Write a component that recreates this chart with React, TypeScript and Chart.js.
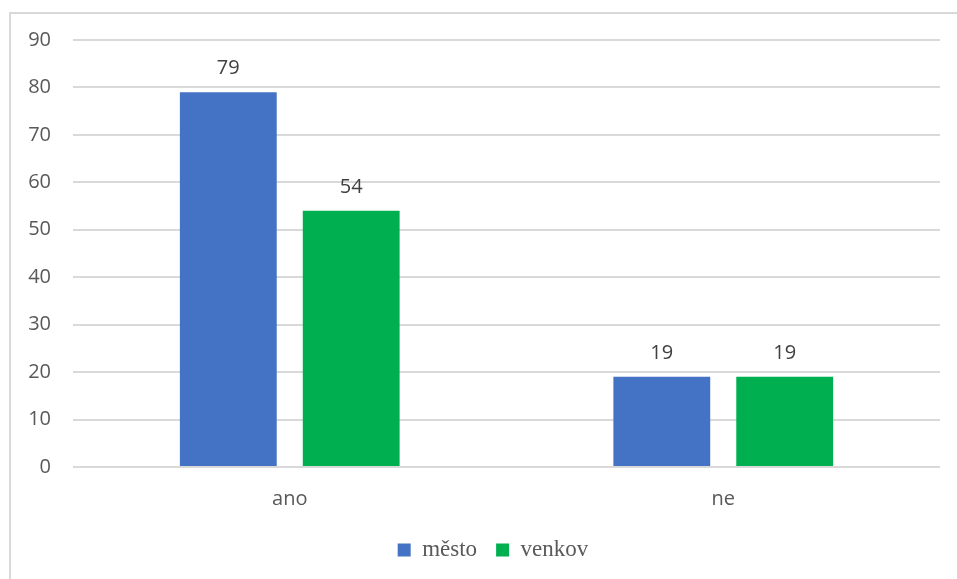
import React, { useEffect, useRef } from "react";
import { Chart, registerables } from "chart.js";

Chart.register(...registerables);

const categories = ["ano", "ne"];
const mestoValues = [79, 19];
const venkovValues = [54, 19];
const seriesNames = ["město", "venkov"];

const valueLabels = {
  id: "valueLabels",
  afterInit(chart: any) {
    const lg = chart.legend;
    if (lg) {
      const orig = lg.fit.bind(lg);
      lg.fit = function () {
        orig();
        this.height = 59.5;
      };
    }
  },
  afterLayout(chart: any) {
    const lg = chart.legend;
    if (lg) {
      lg.left += 23;
      lg.right += 23;
    }
  },
  afterDatasetsDraw(chart: any) {
    const ctx = chart.ctx;
    ctx.save();
    ctx.font = "20px 'Open Sans'";
    ctx.fillStyle = "#404040";
    ctx.textAlign = "center";
    ctx.textBaseline = "middle";
    chart.data.datasets.forEach((ds: any, i: number) => {
      const meta = chart.getDatasetMeta(i);
      meta.data.forEach((bar: any, j: number) => {
        ctx.fillText(String(ds.data[j]), bar.x, bar.y - 24);
      });
    });
    ctx.restore();
  },
};

export default function App() {
  const ref = useRef<HTMLCanvasElement>(null);
  useEffect(() => {
    document.body.style.margin = "0";
    const chart = new Chart(ref.current!, {
      type: "bar",
      data: {
        labels: categories,
        datasets: [
          { label: seriesNames[0], data: mestoValues, backgroundColor: "#4472C4" },
          { label: seriesNames[1], data: venkovValues, backgroundColor: "#00B050" },
        ],
      },
      options: {
        animation: false,
        responsive: false,
        maintainAspectRatio: false,
        layout: { padding: { top: 40, right: 17, left: 0, bottom: 0 } },
        datasets: { bar: { categoryPercentage: 0.567, barPercentage: 0.788 } },
        plugins: {
          tooltip: { enabled: false },
          legend: {
            position: "bottom",
            labels: {
              font: { family: "'Liberation Serif', serif", size: 23 },
              color: "#595959",
              boxWidth: 13,
              boxHeight: 13,
              padding: 19,
            },
          },
        },
        scales: {
          x: {
            afterFit: (s: any) => { s.height = 52.5; },
            grid: { display: false },
            border: { display: false },
            ticks: { font: { family: "'Open Sans'", size: 20 }, color: "#595959", padding: 12 },
          },
          y: {
            min: 0,
            max: 90,
            afterFit: (s: any) => { s.width = 73; },
            ticks: { stepSize: 10, font: { family: "'Open Sans'", size: 20 }, color: "#595959", padding: 22 },
            grid: { color: "#d9d9d9", lineWidth: 2, drawTicks: false },
            border: { display: false },
          },
        },
      },
      plugins: [valueLabels],
    });
    return () => chart.destroy();
  }, []);
  return (
    <div style={{ position: "fixed", left: 0, top: 0, width: 957, height: 579, background: "#fff" }}>
      <div style={{ position: "absolute", left: 9, top: 12, width: 960, height: 580, borderLeft: "2px solid #d9d9d9", borderTop: "2px solid #d9d9d9" }} />
      <canvas ref={ref} width={957} height={579} style={{ position: "absolute", left: 0, top: 0 }} />
    </div>
  );
}
